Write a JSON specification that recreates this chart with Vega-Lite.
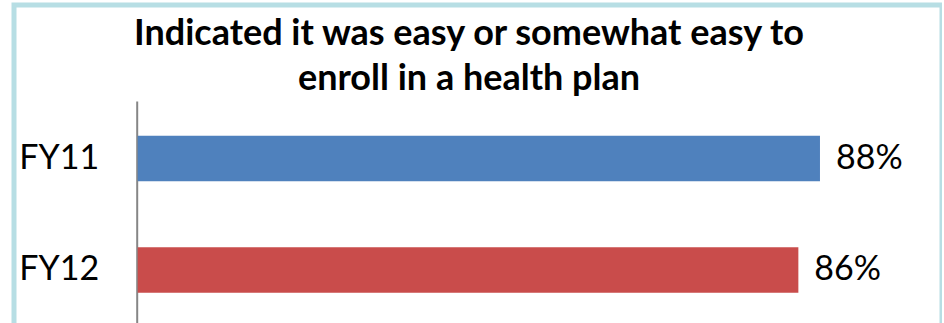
{
  "$schema": "https://vega.github.io/schema/vega-lite/v6.json",
  "autosize": "none",
  "padding": {"left": 14, "top": 5, "right": 0, "bottom": 0},
  "width": 928,
  "height": 330,
  "background": "white",
  "title": {
    "text": ["Indicated it was easy or somewhat easy to", "enroll in a health plan"],
    "anchor": "middle",
    "frame": "group",
    "offset": -93,
    "dx": -9,
    "font": "Lato",
    "fontWeight": "bold",
    "fontSize": 36,
    "lineHeight": 45,
    "color": "#000000"
  },
  "data": {
    "values": [
      {"year": "FY11", "share": 0.884},
      {"year": "FY12", "share": 0.856}
    ]
  },
  "encoding": {
    "y": {
      "field": "year",
      "type": "nominal",
      "sort": null,
      "scale": {"range": [96, 322.5], "paddingInner": 0.592, "paddingOuter": 0.312},
      "axis": {
        "title": null,
        "offset": -122.7,
        "domainColor": "#868686",
        "domainWidth": 2,
        "ticks": false,
        "labelPadding": 38,
        "labelFont": "Lato",
        "labelFontSize": 34,
        "labelColor": "#000000"
      }
    }
  },
  "layer": [
    {
      "mark": {"type": "bar"},
      "encoding": {
        "x": {
          "field": "share",
          "type": "quantitative",
          "scale": {"domain": [0, 1], "range": [123.7, 895.5]},
          "axis": null
        },
        "color": {
          "field": "year",
          "type": "nominal",
          "scale": {"domain": ["FY11", "FY12"], "range": ["#4f81bd", "#c94c4b"]},
          "legend": null
        }
      }
    },
    {
      "mark": {"type": "text", "align": "left", "baseline": "middle", "dx": 16, "font": "Lato", "fontSize": 34, "color": "#000000"},
      "encoding": {
        "x": {"field": "share", "type": "quantitative"},
        "text": {"field": "share", "type": "quantitative", "format": ".0%"}
      }
    }
  ],
  "config": {
    "view": {"stroke": "#b7dee4", "strokeWidth": 5}
  }
}
